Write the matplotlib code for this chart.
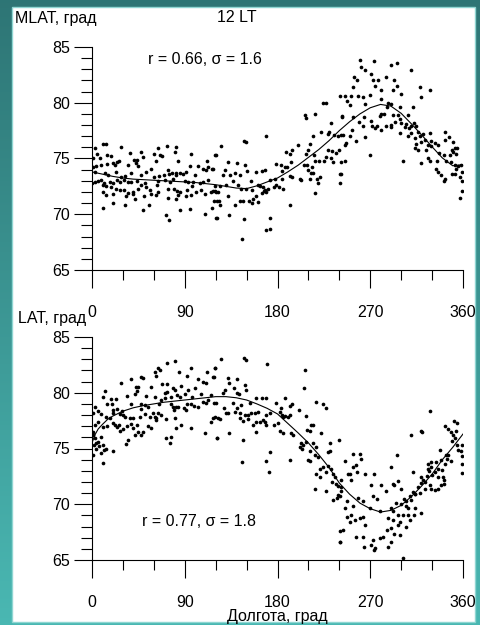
import numpy as np
import matplotlib
matplotlib.use("Agg")
import matplotlib.pyplot as plt
from matplotlib.patches import Rectangle
from matplotlib.ticker import MultipleLocator

plt.rcParams['font.family'] = ['Liberation Sans', 'DejaVu Sans']

# --- data (longitude, latitude) ---
# upper panel: MLAT
top_west = [
    (2.6, 75.9), (10.7, 76.3), (13.9, 76.3), (28.5, 76.0), (64, 75.9), (73.1, 76.1), (81.2, 76.0), (80.9, 75.6),
    (37.2, 75.5), (47.9, 75.6), (0.5, 75.0), (5.2, 75.4), (7.4, 75.0), (14.6, 75.3), (18.8, 75.2), (24.3, 74.7),
    (26.2, 74.8), (40.8, 74.9), (44, 74.9), (49.5, 75.1), (60.2, 75.4), (66, 75.3), (67.9, 75.2), (62.4, 74.8),
    (83.4, 74.8), (95.7, 75.4), (119, 75.3), (1, 74.2), (4.2, 74.3), (9.1, 74.4), (14.6, 74.5), (20.4, 74.6),
    (22, 74.4), (34.9, 74.4), (42.4, 74.6), (44.6, 74.3), (52.7, 73.8), (57.6, 74.1), (73.7, 74.0), (74.7, 73.6),
    (81.2, 73.7), (88.3, 73.6), (94.8, 74.3), (102.8, 74.3), (107.7, 74.1), (110.3, 74.0), (112.5, 74.2),
    (116.4, 74.1), (111.6, 74.8), (2.6, 73.8), (12.3, 73.7), (15.5, 73.5), (23.6, 73.8), (31.7, 73.4),
    (38.2, 73.7), (47.9, 73.5), (60.2, 73.3), (64.7, 73.4), (69.9, 73.5), (78, 73.7), (81.8, 73.5), (85, 73.7),
    (91.5, 73.8), (99.6, 73.5), (0.3, 72.8), (2.6, 72.9), (5.8, 73.0), (9.1, 73.1), (11.3, 72.8), (17.1, 72.9),
    (20.4, 72.8), (24.6, 73.1), (27.5, 72.9), (28.5, 73.3), (30.7, 73.1), (34.9, 72.9), (38.2, 72.9), (44, 73.0),
    (47.9, 72.6), (51.7, 72.8), (64, 73.0), (70.5, 73.1), (75.4, 72.9), (78.6, 73.2), (89.9, 73.0), (93.1, 72.9),
    (98, 72.9), (104.5, 72.8), (107.7, 72.9), (112.5, 73.1), (10.7, 72.6), (13.9, 72.5), (18.8, 72.4),
    (23.6, 72.3), (26.8, 72.2), (31.1, 72.2), (39.8, 72.0), (44.6, 72.3), (52.7, 72.4), (56, 72.2), (63.1, 72.6),
    (73.7, 72.3), (79.6, 72.3), (82.8, 72.1), (85, 72.0), (92.5, 72.2), (97.3, 72.5), (100.6, 72.0),
    (106.1, 72.2), (120.6, 72.0), (117.4, 72.1), (10.7, 72.0), (13.9, 71.7), (20.4, 71.8), (33.3, 71.6),
    (34.9, 71.9), (39.8, 71.8), (41.4, 71.4), (50.1, 71.6), (57.6, 71.8), (62.4, 71.7), (64, 72.0), (73.7, 71.5),
    (81.8, 71.4), (83.4, 71.7), (91.5, 71.6), (96.4, 71.7), (110, 71.8), (115.8, 72.0), (119, 72.1),
    (10.7, 70.6), (20.4, 71.0), (32.3, 70.8), (49.5, 70.4), (55, 70.8), (72.1, 69.9), (74.7, 69.5), (85, 70.4),
    (95.4, 70.5), (110, 70.0), (116.4, 70.6), (120.6, 69.7),
]
top_mid = [
    (240.3, 80.6), (224.1, 80.0), (227.4, 80.0), (206.3, 78.9), (207.3, 78.6), (216.7, 79.0), (242.9, 78.7),
    (231.6, 78.2), (169.1, 77.0), (147.5, 76.6), (149.1, 76.5), (125.5, 76.1), (214.4, 77.0), (222.5, 77.4),
    (229, 77.2), (229.9, 77.4), (234.5, 77.1), (238.7, 77.0), (241.9, 77.1), (120, 75.3), (132, 74.7),
    (140.7, 74.6), (148.1, 74.4), (150.7, 73.9), (159.4, 73.8), (165.3, 73.9), (168.2, 74.0), (178.9, 74.5),
    (183.7, 74.4), (186.9, 74.2), (189.2, 74.2), (187.9, 75.6), (193.7, 75.8), (192.4, 75.4), (200.2, 76.2),
    (211.2, 76.3), (209.6, 75.8), (208, 75.4), (215.4, 75.3), (216, 74.8), (205.4, 74.4), (208.6, 74.4),
    (213.8, 74.2), (220.2, 74.8), (224.8, 74.8), (226.7, 75.1), (232.2, 75.0), (233.8, 74.7), (237.1, 75.5),
    (239.6, 75.8), (229, 75.8), (233.2, 75.7), (241.9, 74.7), (240.3, 73.6), (240.3, 72.8), (117.4, 74.1),
    (128.7, 74.0), (127.1, 73.5), (133.6, 73.5), (138.4, 73.7), (143.3, 73.5), (154.6, 73.0), (161.1, 72.6),
    (162.7, 72.5), (167.5, 72.2), (169.1, 72.0), (166.6, 72.1), (172.4, 73.1), (177.2, 73.2), (178.2, 72.6),
    (184.7, 73.9), (184.7, 73.2), (191.8, 73.4), (194.4, 73.3), (192.8, 74.7), (201.5, 73.2), (203.1, 73.1),
    (211.2, 73.2), (212.8, 73.7), (209.6, 74.0), (214.4, 73.7), (218.3, 73.2), (221.5, 73.3), (219.3, 72.8),
    (216, 71.9), (181.4, 72.4), (185.3, 72.3), (119, 72.5), (124.5, 72.5), (130.3, 72.6), (136.8, 73.0),
    (141.7, 72.6), (144.9, 72.3), (149.7, 72.3), (155.6, 72.2), (165.9, 72.4), (165.3, 71.9), (176.6, 72.4),
    (122.3, 72.0), (118.4, 71.2), (121.6, 71.2), (123.2, 71.2), (123.9, 70.8), (132, 71.6), (138.4, 70.8),
    (143.3, 71.2), (146.5, 71.2), (152.3, 71.2), (156.2, 71.4), (158.8, 71.6), (161.1, 71.1), (155.6, 71.0),
    (191.8, 70.8), (170.8, 72.3), (121.3, 69.7), (132.9, 69.9), (147.2, 69.6), (172.4, 69.7), (169.1, 68.6),
    (172.4, 68.7), (145.9, 67.8),
]
top_east = [
    (259.7, 83.8), (273.6, 83.7), (296.3, 83.6), (261.3, 83.2), (265.2, 82.9), (270.4, 82.6), (290.4, 83.4),
    (309.9, 82.9), (254.2, 82.3), (257.5, 82.0), (253.3, 81.4), (272.7, 82.0), (277.5, 82.0), (274.3, 81.5),
    (285.6, 82.3), (293, 82.0), (296.3, 81.5), (280.1, 81.1), (292.1, 81.1), (300.1, 80.8), (317.9, 81.4),
    (327.6, 81.1), (319.6, 80.5), (245.8, 80.6), (251.6, 80.6), (258.1, 80.6), (263, 80.5), (269.4, 80.7),
    (247.8, 80.2), (250, 79.8), (264.6, 79.9), (280.1, 80.3), (287.2, 80.0), (290.4, 79.9), (286.6, 79.6),
    (298.5, 79.6), (311.5, 79.6), (306.6, 78.9), (296.9, 78.9), (292.1, 78.9), (280.1, 79.0), (283.3, 79.0),
    (279.1, 78.8), (242.6, 78.8), (253.3, 78.7), (258.8, 78.3), (263.9, 78.7), (271, 78.4), (272, 77.9),
    (274.3, 77.7), (276.9, 77.9), (285.6, 77.9), (289.8, 78.0), (293.7, 78.3), (298.5, 78.5), (300.1, 78.2),
    (305, 78.1), (307.3, 77.7), (303.4, 77.8), (309.2, 77.9), (312.4, 78.2), (314.7, 77.9), (316.3, 77.4),
    (309.9, 77.3), (298.5, 77.3), (290.4, 77.8), (280.1, 77.6), (263, 77.9), (252.3, 77.6), (243.6, 77.1),
    (250, 77.0), (256.5, 76.6), (246.8, 76.4), (264.6, 76.9), (245.2, 76.2), (306.6, 77.0), (313.1, 76.8),
    (317.9, 77.0), (321.2, 77.2), (327.6, 77.3), (322.8, 76.7), (329.3, 76.6), (333.1, 76.4), (326, 76.2),
    (318.9, 76.5), (314.7, 76.3), (313.1, 75.9), (316.3, 75.8), (324.4, 75.8), (329.3, 76.1), (335.7, 76.2),
    (342.2, 77.4), (342.2, 76.7), (346.1, 76.9), (350.3, 76.5), (336.7, 75.5), (341.5, 75.3), (347, 75.3),
    (349.3, 75.8), (351.9, 75.9), (354.5, 75.9), (350.3, 75.6), (353.5, 75.4), (343.8, 74.8), (348.7, 74.7),
    (351.9, 74.4), (355.1, 74.3), (358.4, 74.4), (353.5, 74.1), (335.1, 74.8), (334.1, 74.1), (335.7, 73.8),
    (339, 73.5), (341.5, 73.0), (342.2, 73.2), (349.3, 73.6), (351.9, 73.6), (356.7, 73.3), (359, 73.0),
    (359.5, 73.8), (359, 72.1), (356.7, 71.5), (326, 75.0), (327.6, 74.8), (319.6, 74.6), (301.8, 74.8),
    (269.4, 75.3), (245.2, 74.8), (241.3, 73.6),
]

# lower panel: LAT
bot_west = [
    (73.1, 82.7), (80.9, 82.85), (64, 82.25), (65.7, 82.0), (60.8, 81.9), (62.4, 81.5), (47.9, 81.4), (49.5, 81.3),
    (84.1, 81.9), (96.4, 82.25), (119, 82.2), (111.9, 81.9), (37.5, 81.2), (28.5, 80.9), (42.4, 80.5),
    (44.6, 80.5), (44, 80.2), (57.6, 80.5), (67.9, 80.75), (73.1, 80.75), (78.6, 80.4), (86.7, 80.6),
    (92.5, 81.5), (102.8, 81.2), (107.7, 81.0), (110.9, 80.9), (93.1, 80.25), (99.6, 80.4), (13, 80.2),
    (10.7, 79.6), (18.1, 79.4), (23.6, 79.4), (14.9, 79.0), (19.4, 79.0), (34.3, 79.7), (41.4, 79.9),
    (52.7, 79.7), (60.8, 79.6), (71.1, 80.0), (73.1, 80.1), (80.9, 80.25), (82.8, 79.8), (89.9, 79.9),
    (97, 79.6), (106.1, 79.9), (115.8, 79.8), (118.4, 81.4), (2.6, 78.7), (5.8, 78.4), (20.4, 78.45),
    (24.6, 78.5), (29.1, 78.4), (37.5, 79.0), (47.2, 79.0), (47.9, 78.55), (51.7, 78.9), (54.3, 78.75),
    (64.7, 79.0), (77, 79.0), (78.6, 78.7), (81.8, 78.7), (89.3, 78.6), (92.5, 79.0), (96.4, 79.0), (99, 78.8),
    (102.8, 78.75), (107.7, 79.2), (110.9, 79.05), (118.4, 79.1), (112.5, 79.35), (70.5, 79.5), (67.3, 79.35),
    (77, 79.65), (85, 79.65), (0.5, 78.15), (9.1, 78.1), (13.9, 77.85), (17.1, 77.75), (20.4, 78.15),
    (26.8, 78.1), (30.1, 78.0), (31.7, 77.85), (36.5, 77.75), (39.8, 77.7), (46.2, 77.85), (51.1, 78.1),
    (56, 77.85), (59.2, 78.15), (64, 78.15), (62.4, 77.75), (67.3, 78.0), (79.6, 78.45), (83.4, 78.75),
    (91.5, 78.45), (2.6, 77.1), (1, 76.5), (5.8, 77.4), (10.7, 76.9), (14.9, 77.05), (20.4, 77.25), (22, 77.1),
    (25.9, 77.1), (24.6, 76.9), (26.8, 76.6), (30.1, 76.75), (34.3, 77.05), (38.2, 77.2), (39.8, 76.8),
    (44, 77.1), (44.6, 76.45), (49.5, 76.45), (54.3, 77.05), (57.6, 76.8), (62.4, 77.55), (60.8, 77.85),
    (72.1, 77.65), (80.9, 77.75), (86, 77.1), (95.7, 76.8), (81.8, 76.8), (77, 76.0), (72.1, 75.9), (75.4, 75.5),
    (109.3, 76.35), (115.8, 77.4), (117.4, 77.75), (121.6, 75.9), (0.5, 76.2), (3.2, 75.9), (5.8, 75.6),
    (9.1, 76.05), (2, 75.3), (4.2, 75.45), (6.5, 75.2), (10.7, 75.3), (13.9, 75.0), (20.4, 74.8), (33.3, 75.4),
    (34.9, 75.8), (41.4, 76.2), (47.9, 76.2), (0.5, 74.4), (10.7, 73.7), (9.1, 74.6), (11.6, 74.9), (4.2, 74.95),
]
bot_mid = [
    (125.5, 83.0), (147.2, 83.1), (149.1, 82.9), (169.8, 82.55), (119, 82.2), (206.3, 82.0), (117.4, 81.4),
    (132, 81.35), (140.7, 81.2), (132.9, 80.85), (148.1, 80.7), (149.7, 80.25), (137.5, 80.4), (140.7, 80.0),
    (142.6, 79.85), (128.7, 80.25), (127.1, 79.95), (205.4, 80.4), (159.4, 79.55), (165.3, 79.5), (168.5, 79.55),
    (186.9, 79.5), (194.4, 78.95), (192.4, 78.85), (178.2, 79.05), (183.7, 78.6), (217, 79.2), (224.1, 78.95),
    (227.4, 78.65), (200.8, 78.45), (120.6, 79.05), (136.8, 79.05), (140.7, 78.65), (144.9, 78.9), (153, 79.05),
    (127.7, 78.6), (132, 78.15), (138.4, 78.3), (143.3, 78.15), (148.1, 78.0), (151.4, 78.0), (154.6, 78.15),
    (157.8, 78.15), (161.1, 78.3), (169.1, 78.0), (172.4, 78.15), (182.1, 78.3), (184.7, 78.0), (186.9, 77.95),
    (190.2, 77.85), (192.4, 78.0), (119, 77.85), (122.3, 77.75), (123.9, 77.65), (130.3, 78.15), (143.3, 77.7),
    (146.5, 77.45), (151.4, 77.65), (156.2, 77.1), (159.4, 77.35), (162.7, 77.4), (165.9, 77.55), (167.5, 77.35),
    (169.1, 77.1), (176.6, 77.15), (180.5, 77.25), (185.3, 77.85), (208, 77.95), (212.8, 77.1), (214.4, 77.15),
    (208.6, 76.65), (211.2, 76.55), (222.5, 76.35), (193.4, 76.35), (195, 76.2), (182.1, 76.55), (185.3, 76.35),
    (132.9, 76.35), (146.5, 75.75), (159.4, 76.45), (121.3, 75.95), (231.2, 75.45), (239.6, 75.75),
    (203.1, 75.45), (204.7, 75.35), (207.3, 75.55), (202.1, 75.15), (204.1, 75.0), (214.4, 75.45),
    (217.7, 75.15), (211.2, 74.75), (216, 74.4), (229, 74.65), (230.6, 74.75), (219.3, 74.25), (209.6, 73.95),
    (211.2, 73.9), (172.4, 74.7), (169.1, 73.9), (191.8, 73.95), (145.9, 73.8), (171.7, 72.85), (220.9, 73.15),
    (224.1, 73.35), (217.7, 72.75), (220.9, 72.45), (227.4, 72.9), (229, 73.45), (232.2, 73.2), (233.8, 72.75),
    (235.4, 72.4), (216, 71.4), (227.4, 71.2), (233.2, 72.0), (237.1, 71.8), (241.9, 72.15), (238.7, 71.6),
    (241.9, 71.55), (233.8, 70.4), (237.7, 70.6), (240.3, 70.75), (240.3, 67.6), (240.3, 66.65),
]
bot_east = [
    (327.6, 78.35), (309.9, 76.25), (318.9, 76.55), (320.2, 76.5), (342.2, 77.05), (351.2, 77.45), (354.5, 77.25),
    (345.4, 76.75), (348, 76.45), (350.3, 76.2), (353.5, 76.55), (351.9, 75.9), (349.3, 75.65), (354.5, 75.35),
    (359, 75.3), (355.1, 74.85), (358.4, 74.75), (343.8, 74.4), (345.4, 74.45), (337.3, 74.85), (245.8, 73.9),
    (253.3, 74.55), (259.7, 74.5), (260.7, 74.05), (256.5, 73.5), (253.3, 73.35), (248.4, 72.75), (250, 72.7),
    (251.6, 72.15), (257.5, 72.9), (265.2, 72.75), (273.6, 72.7), (296.3, 74.4), (289.8, 73.35), (311.5, 72.85),
    (326, 73.65), (329.3, 73.8), (334.1, 73.75), (339, 73.95), (344.8, 74.05), (348.7, 73.9), (335.7, 73.2),
    (332.5, 72.9), (329.3, 73.35), (326, 73.2), (326.7, 73.0), (325.4, 72.5), (329.9, 72.6), (335.7, 72.45),
    (340.6, 72.45), (319.6, 72.45), (321.2, 72.15), (322.8, 72.0), (319.6, 71.95), (316.3, 71.55), (323.4, 71.4),
    (317.9, 71.0), (313.7, 70.9), (311.5, 71.1), (309.9, 70.4), (308.2, 70.7), (305, 70.25), (302.7, 70.45),
    (296.9, 72.05), (293, 71.7), (292.1, 71.85), (280.7, 71.7), (285.6, 71.15), (299.5, 71.4), (270.4, 71.7),
    (241.9, 71.15), (238.7, 70.85), (247.8, 70.25), (253.3, 69.8), (258.1, 70.55), (263, 70.25), (272.7, 70.7),
    (276.9, 70.45), (269.4, 69.7), (279.1, 69.4), (290.4, 69.65), (295.3, 70.1), (299.5, 70.0), (305, 69.85),
    (306.6, 69.65), (292.1, 69.35), (287.2, 68.75), (292.1, 68.6), (298.5, 68.45), (296.9, 69.05), (301.8, 69.0),
    (306.6, 69.0), (312.4, 69.0), (308.2, 68.6), (313.1, 69.65), (318.9, 69.2), (296.9, 68.15), (290.4, 67.9),
    (286.6, 67.7), (293, 67.3), (298.5, 67.25), (305, 68.0), (263, 68.9), (259.7, 68.75), (254.9, 68.6),
    (251.6, 69.05), (245.2, 69.65), (250, 68.45), (247.8, 68.9), (264.6, 68.15), (263, 67.1), (256.5, 67.1),
    (243.6, 67.7), (240.3, 66.6), (263.9, 66.2), (272.7, 66.8), (271, 66.35), (274.9, 66.1), (273.6, 65.9),
    (279.1, 67.0), (282.4, 67.1), (287.2, 66.2), (290.4, 66.65), (301.8, 65.15), (359.5, 73.65), (359.5, 72.8),
    (359, 74.3), (342.8, 73.65), (339.6, 73.05), (341.5, 72.15), (341.5, 71.85), (339, 71.7), (335.7, 71.4),
    (333.1, 71.3), (329.3, 71.4), (327.6, 71.7), (313.1, 70.95),
]

# fitted curves
curve_top_lon = list(range(0, 361, 10))
curve_top_lat = [73.8, 73.6, 73.4, 73.25, 73.15, 73.1, 73.05, 73.0, 72.95, 72.9, 72.85, 72.75, 72.65,
                 72.5, 72.35, 72.3, 72.55, 72.9, 73.25, 73.8, 74.4, 75.1, 75.8, 76.6, 77.5, 78.3, 79.0,
                 79.55, 79.85, 79.7, 79.05, 78.1, 77.1, 76.05, 75.05, 74.35, 74.45]
curve_bot_lon = [0, 3, 6, 10, 15, 20] + list(range(30, 361, 10))
curve_bot_lat = [75.5, 76.25, 76.75, 77.15, 77.6, 77.9, 78.35, 78.65, 78.85, 79.0, 79.15, 79.25, 79.35,
                 79.45, 79.55, 79.65, 79.65, 79.55, 79.35, 79.0, 78.6, 78.1, 77.25, 76.4, 75.5, 74.45,
                 73.3, 71.9, 70.9, 70.1, 69.6, 69.3, 69.45, 69.9, 70.7, 71.65, 72.7, 74.0, 75.1, 76.3]

xticks = [0, 90, 180, 270, 360]
yticks = [65, 70, 75, 80, 85]

W, H = 481, 625
fig = plt.figure(figsize=(W / 100, H / 100), dpi=100)

# teal gradient background with white sheet
bg = fig.add_axes([0, 0, 1, 1], zorder=-10)
grad = np.linspace(0, 1, 256).reshape(-1, 1)
c_top = np.array([0.18, 0.46, 0.46])
c_bot = np.array([0.29, 0.72, 0.70])
img = c_top + grad[:, :, None] * (c_bot - c_top)
bg.imshow(img, aspect='auto', extent=[0, W, H, 0])
bg.add_patch(Rectangle((12.5, 7), 463, 615, facecolor='white', edgecolor='#8fd6d2', lw=1))
bg.set_xlim(0, W)
bg.set_ylim(H, 0)
bg.axis('off')


def panel(rect, pts, clon, clat):
    ax = fig.add_axes(rect)
    ax.patch.set_alpha(0)
    lon, lat = zip(*pts)
    ax.scatter(lon, lat, s=7, c='black', linewidths=0, zorder=3)
    ax.plot(clon, clat, color='black', lw=0.8, zorder=4)
    ax.set_xlim(0, 360)
    ax.set_ylim(65, 85)
    for s in ['top', 'right']:
        ax.spines[s].set_visible(False)
    for s in ['left', 'bottom']:
        ax.spines[s].set_linewidth(0.8)
    ax.set_xticks(xticks)
    ax.xaxis.set_minor_locator(MultipleLocator(30))
    ax.set_yticks(yticks)
    ax.yaxis.set_minor_locator(MultipleLocator(1))
    ax.tick_params(axis='x', which='major', length=13, width=0.8, pad=12, labelsize=11.5)
    ax.tick_params(axis='x', which='minor', length=7, width=0.8)
    ax.tick_params(axis='y', which='major', length=13, width=0.8, pad=3, labelsize=11.5)
    ax.tick_params(axis='y', which='minor', length=8, width=0.8)
    return ax


ax1 = panel([92 / W, 1 - 270 / H, 371 / W, 223 / H], top_west + top_mid + top_east,
            curve_top_lon, curve_top_lat)
ax2 = panel([92 / W, 1 - 560 / H, 371 / W, 223 / H], bot_west + bot_mid + bot_east,
            curve_bot_lon, curve_bot_lat)

fs = 11.5
fig.text(15 / W, 1 - 18 / H, 'MLAT, град', fontsize=fs, va='center', ha='left')
fig.text(237 / W, 1 - 18 / H, '12 LT', fontsize=fs, va='center', ha='center')
fig.text(148 / W, 1 - 60 / H, 'r = 0.66, σ = 1.6', fontsize=fs, va='center', ha='left')
fig.text(18 / W, 1 - 318 / H, 'LAT, град', fontsize=fs, va='center', ha='left')
fig.text(142 / W, 1 - 521 / H, 'r = 0.77, σ = 1.8', fontsize=fs, va='center', ha='left')
fig.text(277 / W, 1 - 617 / H, 'Долгота, град', fontsize=fs, va='center', ha='center')

fig.savefig('out.png', dpi=100)
